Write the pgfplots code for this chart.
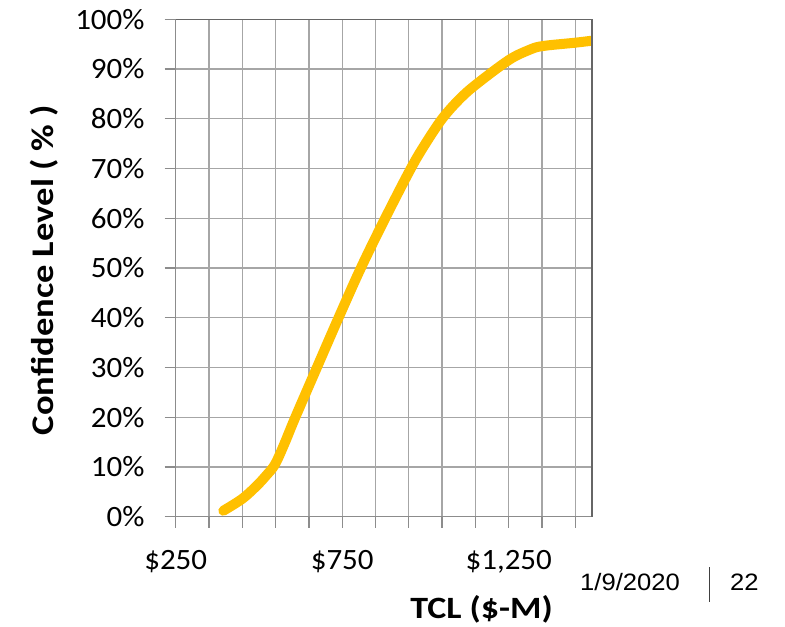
\documentclass[border=0pt]{standalone}
\usepackage{pgfplots}
\pgfplotsset{compat=1.18}
\usepackage{fontspec}
\setmainfont{Carlito}
\newfontfamily\tickfont[FakeStretch=1.05]{Carlito}
\newfontfamily\labelfont[FakeStretch=1.16]{Carlito}
\newfontfamily\footfont[FakeStretch=1.08]{Liberation Sans}
\definecolor{curvegold}{HTML}{FFC000}
\definecolor{gridgray}{HTML}{A6A6A6}
\definecolor{axisgray}{HTML}{8C8C8C}
\definecolor{framegray}{HTML}{666666}

% Cumulative confidence level (percent) against total cost (millions of dollars)
\pgfplotstableread{
tcl   cl
393   1.2
450   3.6
493   6.2
522   8.3
548   10.5
576   14.6
608   19.8
674   30.0
739   40.0
806   50.0
879   60.0
956   70.0
1000  75.0
1050  80.0
1100  83.8
1150  86.8
1250  91.8
1310  93.8
1350  94.6
1450  95.3
1500  95.7
}\scurve

\begin{document}
\begin{tikzpicture}
\useasboundingbox (0bp,0bp) rectangle (785bp,627bp);
\begin{axis}[
  at={(175.7bp,110.3bp)}, anchor=south west,
  scale only axis, width=416.3bp, height=497.4bp,
  xmin=250, xmax=1500, ymin=0, ymax=100,
  xtick={250,350,...,1450},
  xticklabels={{\$250},{},{},{},{},{\$750},{},{},{},{},{\$1,250},{},{},{}},
  ytick={0,10,...,100},
  yticklabels={0\%,10\%,20\%,30\%,40\%,50\%,60\%,70\%,80\%,90\%,100\%},
  xtick pos=left, ytick pos=left,
  tick align=outside, major tick length=11bp,
  tick style={color=axisgray, line width=1.3bp},
  grid=major,
  major grid style={color=gridgray, line width=1.3bp},
  axis line style={color=axisgray, line width=1.3bp},
  ticklabel style={font=\tickfont\fontsize{29.5bp}{32bp}\selectfont, text=black},
  yticklabel style={inner sep=0pt, xshift=-20bp},
  xticklabel style={inner sep=0pt, yshift=-22bp},
  extra description/.code={
    \draw[color=framegray, line width=1.3bp]
      (rel axis cs:0,1) -- (rel axis cs:1,1) -- (rel axis cs:1,0);
  },
]
\addplot[color=curvegold, line width=10bp, smooth, tension=0.55,
         line cap=round, line join=round] table[x=tcl, y=cl] {\scurve};
\end{axis}
% axis titles
\node[rotate=90, anchor=base, inner sep=0pt,
      font=\labelfont\bfseries\fontsize{31.5bp}{34bp}\selectfont]
  at (53bp,357bp) {Confidence Level ( \% )};
\node[anchor=base, inner sep=0pt,
      font=\labelfont\bfseries\fontsize{31bp}{34bp}\selectfont]
  at (481.5bp,9bp) {TCL (\$-M)};
% slide footer
\node[anchor=base west, inner sep=0pt,
      font=\footfont\fontsize{23.7bp}{26bp}\selectfont]
  at (580bp,37bp) {1/9/2020};
\draw[color=black!75, line width=1bp] (709bp,25bp) -- (709bp,60bp);
\node[anchor=base west, inner sep=0pt,
      font=\footfont\fontsize{23.7bp}{26bp}\selectfont]
  at (730bp,37bp) {22};
\end{tikzpicture}
\end{document}
